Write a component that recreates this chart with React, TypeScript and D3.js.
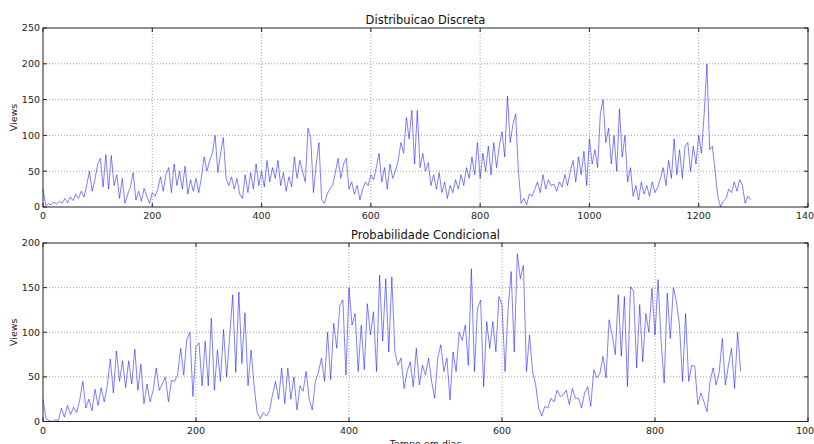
import React from 'react';
import * as d3 from 'd3';

// views per day, one value every 5 days
const discreteStep = 5;
const discreteViews = [
  25, 2, 5, 3, 7, 4, 8, 5, 12, 6, 14, 9, 18, 12, 22, 14, 30, 50, 22, 38,
  60, 68, 28, 73, 25, 72, 30, 45, 12, 40, 5, 18, 28, 48, 10, 22, 8, 26, 15, 5,
  20, 15, 25, 42, 22, 45, 55, 20, 60, 30, 50, 25, 57, 18, 38, 22, 40, 20, 42, 70,
  50, 65, 75, 100, 48, 75, 97, 40, 30, 42, 25, 40, 18, 12, 45, 20, 48, 25, 60, 30,
  50, 28, 65, 35, 55, 40, 65, 30, 48, 22, 42, 28, 70, 40, 65, 50, 35, 110, 95, 20,
  60, 90, 10, 5, 18, 25, 30, 48, 68, 40, 60, 68, 25, 35, 18, 30, 10, 25, 35, 30,
  45, 38, 55, 75, 35, 55, 25, 60, 40, 50, 65, 90, 75, 125, 95, 135, 60, 135, 55, 75,
  50, 62, 30, 45, 25, 48, 20, 35, 12, 30, 20, 38, 25, 45, 30, 55, 40, 70, 45, 90,
  40, 75, 50, 85, 45, 90, 55, 85, 105, 70, 155, 90, 115, 130, 50, 5, 12, 3, 18, 15,
  25, 35, 20, 45, 25, 38, 30, 32, 22, 35, 28, 45, 30, 50, 65, 35, 70, 45, 78, 30,
  95, 60, 80, 55, 130, 150, 90, 110, 60, 100, 50, 137, 70, 100, 35, 55, 15, 30, 10, 35,
  18, 30, 15, 35, 20, 28, 40, 55, 30, 65, 40, 95, 45, 80, 40, 85, 90, 50, 85, 60,
  100, 75, 130, 200, 80, 85, 50, 15, 0, 8, 12, 25, 20, 35, 22, 38, 30, 5, 15, 10,
];

// views per day, one value every 4 days
const condStep = 4;
const condViews = [
  25, 3, 1, 0, 2, 1, 15, 5, 18, 8, 16, 10, 24, 45, 15, 25, 12, 36, 18, 38, 22, 40, 70, 32, 79,
  45, 68, 38, 68, 42, 81, 35, 64, 20, 42, 22, 35, 60, 35, 42, 50, 22, 46, 45, 52, 82, 52, 92, 100, 28,
  84, 88, 40, 90, 40, 116, 35, 80, 45, 103, 50, 95, 142, 55, 145, 65, 122, 40, 80, 40, 10, 3, 10, 6, 12,
  30, 45, 25, 60, 20, 60, 25, 50, 13, 40, 34, 56, 25, 13, 45, 55, 71, 45, 100, 47, 110, 82, 130, 136, 52,
  150, 108, 121, 56, 108, 58, 132, 97, 123, 56, 164, 90, 160, 78, 162, 78, 63, 71, 37, 56, 67, 39, 82, 41, 63,
  52, 71, 45, 26, 71, 86, 56, 71, 24, 78, 56, 100, 91, 108, 63, 171, 56, 127, 136, 39, 112, 82, 112, 78, 140,
  131, 56, 127, 168, 78, 188, 160, 175, 56, 97, 56, 41, 15, 6, 17, 15, 26, 22, 35, 28, 30, 35, 19, 37, 26,
  26, 15, 32, 39, 17, 58, 49, 54, 73, 49, 114, 97, 75, 142, 73, 140, 39, 151, 146, 60, 131, 67, 121, 100, 149,
  97, 159, 90, 43, 144, 93, 150, 134, 108, 45, 121, 45, 63, 62, 19, 32, 22, 11, 45, 60, 41, 56, 93, 41, 63,
  82, 37, 100, 56,
];

const discreteXTicks = [0, 200, 400, 600, 800, 1000, 1200, 1400];
const discreteYTicks = [0, 50, 100, 150, 200, 250];
const condXTicks = [0, 200, 400, 600, 800, 1000];
const condYTicks = [0, 50, 100, 150, 200];

const W = 814;
const H = 444;
const font = '"DejaVu Sans", sans-serif';

type PanelProps = {
  title: string;
  values: number[];
  step: number;
  xTicks: number[];
  yTicks: number[];
  top: number;
  bottom: number;
  xLabel?: string;
};

const Panel = ({ title, values, step, xTicks, yTicks, top, bottom, xLabel }: PanelProps) => {
  const left = 43;
  const right = 808;
  const x = d3.scaleLinear().domain([0, xTicks[xTicks.length - 1]]).range([left, right]);
  const y = d3.scaleLinear().domain([0, yTicks[yTicks.length - 1]]).range([bottom, top]);
  const line = d3.line<number>()
    .x((_, i) => x(i * step))
    .y(d => y(d));

  return (
    <g>
      {/* grid */}
      {xTicks.slice(1, -1).map(t => (
        <line key={'gx' + t} x1={x(t)} x2={x(t)} y1={top} y2={bottom}
          stroke="#888" strokeWidth={0.8} strokeDasharray="1,2" />
      ))}
      {yTicks.slice(1, -1).map(t => (
        <line key={'gy' + t} x1={left} x2={right} y1={y(t)} y2={y(t)}
          stroke="#888" strokeWidth={0.8} strokeDasharray="1,2" />
      ))}

      <path d={line(values) || ''} fill="none" stroke="#0000ff" strokeOpacity={0.5} strokeWidth={1} />

      {/* inward ticks on every side */}
      {xTicks.map(t => (
        <g key={'tx' + t}>
          <line x1={x(t)} x2={x(t)} y1={bottom} y2={bottom - 4} stroke="#222" />
          <line x1={x(t)} x2={x(t)} y1={top} y2={top + 4} stroke="#222" />
          <text x={x(t)} y={bottom + 12} textAnchor="middle" fontSize={9.5} fill="#222">{t}</text>
        </g>
      ))}
      {yTicks.map(t => (
        <g key={'ty' + t}>
          <line x1={left} x2={left + 4} y1={y(t)} y2={y(t)} stroke="#222" />
          <line x1={right} x2={right - 4} y1={y(t)} y2={y(t)} stroke="#222" />
          <text x={40} y={y(t)} dy="0.35em" textAnchor="end" fontSize={9.5} fill="#222">{t}</text>
        </g>
      ))}

      <rect x={left} y={top} width={right - left} height={bottom - top} fill="none" stroke="#222" strokeWidth={1} />

      <text x={(left + right) / 2} y={top - 4} textAnchor="middle" fontSize={11.5} fill="#111">{title}</text>
      <text transform={`translate(17,${(top + bottom) / 2}) rotate(-90)`} textAnchor="middle" fontSize={9.5} fill="#222">Views</text>
      {xLabel && (
        <text x={(left + right) / 2} y={bottom + 25} textAnchor="middle" fontSize={9.5} fill="#222">{xLabel}</text>
      )}
    </g>
  );
};

export default function App() {
  return (
    <svg width={W} height={H} style={{ position: 'absolute', left: 0, top: 0, background: '#fff' }} fontFamily={font}>
      <rect width={W} height={H} fill="#fff" />
      <Panel title="Distribuicao Discreta" values={discreteViews} step={discreteStep}
        xTicks={discreteXTicks} yTicks={discreteYTicks} top={28} bottom={207} />
      <Panel title="Probabilidade Condicional" values={condViews} step={condStep}
        xTicks={condXTicks} yTicks={condYTicks} top={243} bottom={421.5} xLabel="Tempo em dias" />
    </svg>
  );
}
